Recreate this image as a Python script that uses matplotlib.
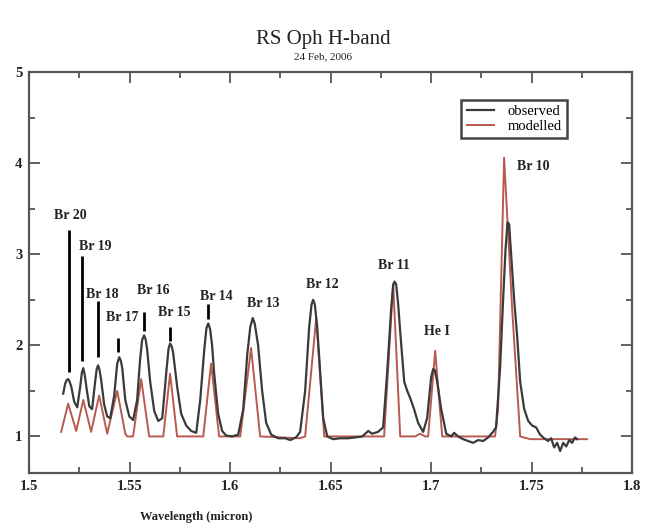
import matplotlib
matplotlib.use("Agg")
import matplotlib.pyplot as plt
from matplotlib.ticker import MultipleLocator

plt.rcParams['font.family'] = ['Liberation Serif', 'DejaVu Serif']

# ---------------- data ----------------
obs_wl = [1.5169, 1.5179, 1.5187, 1.5194, 1.5201, 1.5209, 1.5224, 1.5239, 1.5254, 1.5262,
          1.5269, 1.5276, 1.5284, 1.5299, 1.5313, 1.5328, 1.5336, 1.5343, 1.5350, 1.5358,
          1.5373, 1.5388, 1.5403, 1.5423, 1.5438, 1.5448, 1.5456, 1.5463, 1.5478, 1.5498,
          1.5517, 1.5537, 1.5552, 1.5562, 1.5572, 1.5580, 1.5587, 1.5602, 1.5622, 1.5642,
          1.5662, 1.5682, 1.5693, 1.5701, 1.5709, 1.5716, 1.5736, 1.5756, 1.5781, 1.5806,
          1.5831, 1.5851, 1.5871, 1.5882, 1.5891, 1.5900, 1.5910, 1.5920, 1.5940, 1.5960,
          1.5980, 1.6010, 1.6040, 1.6065, 1.6085, 1.6100, 1.6112, 1.6122, 1.6139, 1.6159,
          1.6179, 1.6204, 1.6239, 1.6274, 1.6299, 1.6328, 1.6348, 1.6373, 1.6393, 1.6405,
          1.6413, 1.6421, 1.6433, 1.6448, 1.6463, 1.6483, 1.6512, 1.6547, 1.6587, 1.6627,
          1.6657, 1.6687, 1.6706, 1.6736, 1.6761, 1.6781, 1.6801, 1.6811, 1.6818, 1.6826,
          1.6836, 1.6846, 1.6866, 1.6881, 1.6896, 1.6915, 1.6935, 1.6960, 1.6980, 1.7000,
          1.7010, 1.7018, 1.7030, 1.7050, 1.7075, 1.7100, 1.7114, 1.7134, 1.7159, 1.7184,
          1.7209, 1.7234, 1.7259, 1.7284, 1.7308, 1.7323, 1.7343, 1.7358, 1.7370, 1.7380,
          1.7388, 1.7398, 1.7413, 1.7428, 1.7443, 1.7463, 1.7483, 1.7502, 1.7522, 1.7542,
          1.7562, 1.7582, 1.7597, 1.7612, 1.7627, 1.7642, 1.7657, 1.7672, 1.7687, 1.7701,
          1.7716, 1.7726]
obs_flux = [1.47, 1.58, 1.62, 1.63, 1.60, 1.55, 1.38, 1.32, 1.55, 1.70,
            1.75, 1.68, 1.55, 1.33, 1.30, 1.60, 1.74, 1.78, 1.73, 1.62,
            1.35, 1.22, 1.20, 1.45, 1.80, 1.87, 1.83, 1.75, 1.40, 1.22,
            1.18, 1.40, 1.85, 2.06, 2.11, 2.06, 1.95, 1.60, 1.28, 1.17,
            1.20, 1.70, 1.96, 2.02, 1.99, 1.92, 1.55, 1.25, 1.12, 1.06,
            1.04, 1.40, 1.95, 2.19, 2.24, 2.18, 2.00, 1.70, 1.25, 1.06,
            1.01, 1.00, 1.02, 1.30, 1.90, 2.20, 2.30, 2.24, 2.00, 1.50,
            1.15, 1.02, 0.98, 0.98, 0.96, 0.99, 1.05, 1.50, 2.20, 2.45,
            2.50, 2.45, 2.20, 1.70, 1.20, 1.00, 0.97, 0.98, 0.98, 0.99,
            1.00, 1.06, 1.03, 1.05, 1.10, 1.70, 2.40, 2.66, 2.70, 2.67,
            2.45, 2.15, 1.60, 1.50, 1.42, 1.30, 1.15, 1.05, 1.20, 1.65,
            1.74, 1.73, 1.60, 1.30, 1.03, 1.00, 1.04, 1.00, 0.97, 0.95,
            0.93, 0.96, 0.95, 0.99, 1.05, 1.10, 1.75, 2.50, 3.05, 3.35,
            3.33, 3.00, 2.50, 2.10, 1.60, 1.30, 1.17, 1.12, 1.10, 1.02,
            0.98, 0.95, 0.98, 0.88, 0.93, 0.84, 0.93, 0.89, 0.96, 0.93,
            0.99, 0.97]

mod_wl = [1.5159, 1.5194, 1.5234, 1.5269, 1.5308, 1.5348, 1.5388, 1.5438, 1.5478, 1.5488,
          1.5517, 1.5557, 1.5597, 1.5652, 1.5667, 1.5701, 1.5736, 1.5851, 1.5866, 1.5905,
          1.5945, 1.6050, 1.6104, 1.6149, 1.6348, 1.6373, 1.6428, 1.6468, 1.6746, 1.6766,
          1.6811, 1.6846, 1.6920, 1.6945, 1.6970, 1.6985, 1.7020, 1.7055, 1.7318, 1.7333,
          1.7363, 1.7403, 1.7443, 1.7493, 1.7776]
mod_flux = [1.05, 1.36, 1.06, 1.40, 1.05, 1.45, 1.03, 1.50, 1.03, 1.00,
            1.00, 1.63, 1.00, 1.00, 1.00, 1.69, 1.00, 1.00, 1.00, 1.80,
            1.00, 1.00, 1.97, 1.00, 0.98, 1.00, 2.30, 1.00, 1.00, 1.00,
            2.68, 1.00, 1.00, 1.03, 1.00, 1.00, 1.94, 1.00, 1.00, 1.30,
            4.06, 2.40, 1.00, 0.97, 0.97]

# line identifications: label, text position, marker line (x, top, bottom)
line_labels = ["Br 20", "Br 19", "Br 18", "Br 17", "Br 16", "Br 15", "Br 14",
               "Br 13", "Br 12", "Br 11", "He I", "Br 10"]
label_x = [1.5204, 1.5329, 1.5363, 1.5463, 1.5617, 1.5721, 1.5930,
           1.6165, 1.6458, 1.6816, 1.7030, 1.7508]
label_y = [3.43, 3.08, 2.56, 2.31, 2.60, 2.36, 2.54,
           2.46, 2.67, 2.88, 2.15, 3.96]
tick_x = [1.5199, 1.5264, 1.5343, 1.5443, 1.5572, 1.5701, 1.5891]
tick_top = [3.27, 2.98, 2.49, 2.08, 2.37, 2.20, 2.45]
tick_bottom = [1.71, 1.83, 1.87, 1.93, 2.16, 2.05, 2.29]

# ---------------- figure ----------------
fig = plt.figure(figsize=(6.49, 5.26), dpi=100)
ax = fig.add_axes([0.045, 0.101, 0.929, 0.762])

frame_col = '#555555'
ax.plot(obs_wl, obs_flux, color='#3a3a3a', lw=1.6, label='observed', zorder=3)
ax.plot(mod_wl, mod_flux, color='#b95a50', lw=1.4, label='modelled', zorder=2)

for x, t, b in zip(tick_x, tick_top, tick_bottom):
    ax.plot([x, x], [b, t], color='black', lw=2.0, solid_capstyle='butt', zorder=4)

for lab, x, y in zip(line_labels, label_x, label_y):
    ax.text(x, y, lab, ha='center', va='center', fontsize=10, fontweight='bold',
            color='#222222')

ax.set_xlim(1.5, 1.8)
ax.set_ylim(0.6, 5)
ax.xaxis.set_minor_locator(MultipleLocator(0.025))
ax.yaxis.set_minor_locator(MultipleLocator(0.5))
ax.set_xticks([1.5, 1.55, 1.6, 1.65, 1.7, 1.75, 1.8])
ax.set_xticklabels(['1.5', '1.55', '1.6', '1.65', '1.7', '1.75', '1.8'])
ax.set_yticks([1, 2, 3, 4, 5])
ax.set_yticklabels(['1', '2', '3', '4', '5'])
ax.tick_params(which='both', direction='in', top=True, right=True, colors=frame_col,
               labelcolor='#222222', width=1.3)
ax.tick_params(which='major', length=8, labelsize=10.5, pad=5)
ax.tick_params(which='minor', length=4)
for lab in ax.get_xticklabels() + ax.get_yticklabels():
    lab.set_fontweight('bold')
for s in ax.spines.values():
    s.set_color(frame_col)
    s.set_linewidth(1.6)

leg = ax.legend(loc='upper left', bbox_to_anchor=(0.717, 0.93), fontsize=10.5,
                frameon=True, fancybox=False, handlelength=1.9, borderpad=0.35,
                labelspacing=0.1, handletextpad=0.9, borderaxespad=0)
leg.get_frame().set_edgecolor('#444444')
leg.get_frame().set_linewidth(1.8)
leg.get_frame().set_alpha(1)

fig.text(0.498, 0.924, 'RS Oph H-band', ha='center', va='center', fontsize=15,
         color='#222222')
fig.text(0.498, 0.892, '24 Feb, 2006', ha='center', va='center', fontsize=8,
         color='#222222')
fig.text(0.302, 0.017, 'Wavelength (micron)', ha='center', va='center', fontsize=9,
         fontweight='bold', color='#222222')

fig.savefig('out.png', dpi=100, facecolor='white')
